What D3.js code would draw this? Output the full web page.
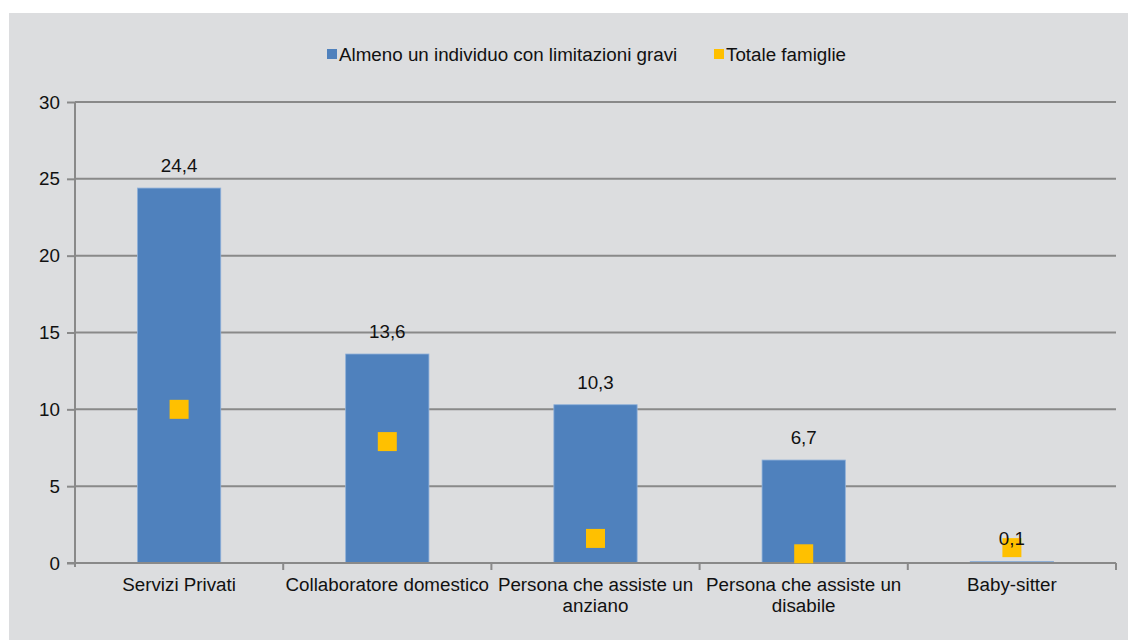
<!DOCTYPE html>
<html>
<head>
<meta charset="utf-8">
<script src="https://cdn.jsdelivr.net/npm/d3@7"></script>
<style>
  html, body { margin: 0; padding: 0; background: #ffffff; }
  svg { display: block; font-family: "Liberation Sans", Arial, sans-serif; }
</style>
</head>
<body>
<svg id="chart" width="1128" height="640"></svg>
<script>
// Categories and series
const categories = [
  "Servizi Privati",
  "Collaboratore domestico",
  "Persona che assiste un anziano",
  "Persona che assiste un disabile",
  "Baby-sitter"
];
const categoryLines = [
  ["Servizi Privati"],
  ["Collaboratore domestico"],
  ["Persona che assiste un", "anziano"],
  ["Persona che assiste un", "disabile"],
  ["Baby-sitter"]
];
const limitazioniGravi = [24.4, 13.6, 10.3, 6.7, 0.1];
const totaleFamiglie = [10.0, 7.9, 1.6, 0.6, 1.0];
const yTicks = [0, 5, 10, 15, 20, 25, 30];
const seriesNames = ["Almeno un individuo con limitazioni gravi", "Totale famiglie"];

const svg = d3.select("#chart");
const W = 1128, H = 640;
const margin = { left: 75, right: 12, top: 102, bottom: 77 };
const bg = "#dcdddf";
const gridColor = "#898989";
const blue = "#4f81bd";
const yellow = "#ffc000";
const fontSize = 18.8;
const textColor = "#111111";

// panel background
svg.append("rect").attr("x", 9).attr("y", 13).attr("width", W - 9).attr("height", H - 13).attr("fill", bg);

const x = d3.scaleBand().domain(categories).range([margin.left, 1116]).paddingInner(0).paddingOuter(0);
const y = d3.scaleLinear().domain([0, 30]).range([563, 102]);

// horizontal gridlines
svg.append("g").selectAll("line").data(yTicks.filter(d => d > 0)).join("line")
  .attr("x1", margin.left).attr("x2", 1116)
  .attr("y1", d => y(d)).attr("y2", d => y(d))
  .attr("stroke", gridColor).attr("stroke-width", 2);

// bars
const bw = x.bandwidth() * 0.4;
svg.append("g").selectAll("rect").data(limitazioniGravi).join("rect")
  .attr("x", (d, i) => x(categories[i]) + (x.bandwidth() - bw) / 2)
  .attr("y", d => y(d))
  .attr("width", bw)
  .attr("height", d => y(0) - y(d))
  .attr("fill", blue)
  .attr("stroke", "#8fb0d9").attr("stroke-width", 0.8);

// y axis
const yAxis = d3.axisLeft(y).tickValues(yTicks).tickSize(8).tickPadding(7).tickFormat(d3.format("d"));
const yg = svg.append("g").attr("transform", `translate(${margin.left},0)`).call(yAxis);
yg.select(".domain").attr("stroke", gridColor).attr("stroke-width", 2).attr("d", `M0,${y(30)}V${y(0) + 4}`);
yg.selectAll(".tick line").attr("stroke", gridColor).attr("stroke-width", 2);
yg.selectAll(".tick text").attr("fill", textColor).style("font-size", fontSize + "px").attr("font-family", "Liberation Sans, Arial, sans-serif");

// x axis baseline with ticks at category boundaries
svg.append("line").attr("x1", margin.left - 8).attr("x2", 1116).attr("y1", y(0)).attr("y2", y(0))
  .attr("stroke", gridColor).attr("stroke-width", 2);
const bounds = categories.map(c => x(c)).concat([x.range()[1]]);
svg.append("g").selectAll("line").data(bounds.slice(1)).join("line")
  .attr("x1", d => d).attr("x2", d => d).attr("y1", y(0)).attr("y2", y(0) + 7)
  .attr("stroke", gridColor).attr("stroke-width", 2);

// category labels
const xl = svg.append("g");
categoryLines.forEach((lines, i) => {
  const cx = x(categories[i]) + x.bandwidth() / 2;
  const t = xl.append("text")
    .attr("x", cx)
    .attr("y", 591)
    .attr("text-anchor", "middle")
    .attr("fill", textColor)
    .style("font-size", fontSize + "px");
  lines.forEach((ln, j) => t.append("tspan").attr("x", cx).attr("dy", j === 0 ? 0 : 21).text(ln));
});

// square markers for totale famiglie
const ms = 19;
svg.append("g").selectAll("rect").data(totaleFamiglie).join("rect")
  .attr("x", (d, i) => x(categories[i]) + x.bandwidth() / 2 - ms / 2)
  .attr("y", d => y(d) - ms / 2)
  .attr("width", ms).attr("height", ms)
  .attr("fill", yellow);

// value labels above bars (drawn over the markers)
const fmt = d => d3.format(".1f")(d).replace(".", ",");
svg.append("g").selectAll("text").data(limitazioniGravi).join("text")
  .attr("x", (d, i) => x(categories[i]) + x.bandwidth() / 2)
  .attr("y", d => y(d) - 16)
  .attr("text-anchor", "middle")
  .attr("fill", textColor)
  .style("font-size", fontSize + "px")
  .text(fmt);

// legend
const legend = svg.append("g");
const items = [
  { name: seriesNames[0], color: blue, x: 327 },
  { name: seriesNames[1], color: yellow, x: 714 }
];
items.forEach(it => {
  legend.append("rect").attr("x", it.x).attr("y", 49).attr("width", 10).attr("height", 10).attr("fill", it.color);
  legend.append("text").attr("x", it.x + 12).attr("y", 60.5).attr("fill", textColor)
    .style("font-size", fontSize + "px").text(it.name);
});
</script>
</body>
</html>
